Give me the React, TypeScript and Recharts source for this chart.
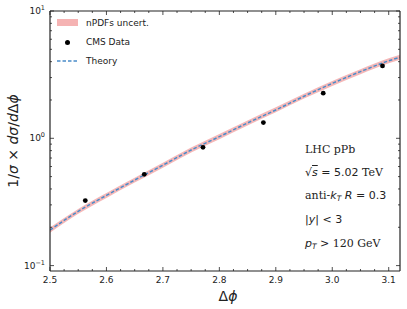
import React from 'react';
import { ComposedChart, XAxis, YAxis, Line, Area, Scatter } from 'recharts';

// ---- data ----
const theoryX = [2.5, 2.55, 2.6, 2.65, 2.7, 2.75, 2.8, 2.85, 2.9, 2.95, 3.0, 3.05, 3.1, 3.12];
const theoryY = [0.19, 0.267, 0.356, 0.47, 0.615, 0.809, 1.03, 1.32, 1.67, 2.14, 2.7, 3.34, 4.06, 4.33];
const bandLow = [0.181, 0.255, 0.34, 0.449, 0.588, 0.773, 0.984, 1.26, 1.6, 2.05, 2.58, 3.19, 3.88, 4.14];
const bandHigh = [0.199, 0.279, 0.372, 0.491, 0.643, 0.846, 1.08, 1.38, 1.75, 2.24, 2.82, 3.49, 4.25, 4.53];
const cmsX = [2.5625, 2.667, 2.771, 2.878, 2.984, 3.089];
const cmsY = [0.324, 0.521, 0.849, 1.33, 2.26, 3.7];

const xTicks = [2.5, 2.525, 2.55, 2.575, 2.6, 2.625, 2.65, 2.675, 2.7, 2.725, 2.75, 2.775, 2.8, 2.825, 2.85, 2.875, 2.9, 2.925, 2.95, 2.975, 3.0, 3.025, 3.05, 3.075, 3.1];
const xMajor = [2.5, 2.6, 2.7, 2.8, 2.9, 3.0, 3.1];
const yTicks = [0.1, 0.2, 0.3, 0.4, 0.5, 0.6, 0.7, 0.8, 0.9, 1, 2, 3, 4, 5, 6, 7, 8, 9, 10];
const yMajor = [0.1, 1, 10];
const yMajorExp = ['\u22121', '0', '1'];

const xDomain = [2.5, 3.12];
const yDomain = [0.0907, 10];

const lineData = theoryX.map((x, i) => ({ x, y: theoryY[i] }));
const bandData = theoryX.map((x, i) => ({ x, band: [bandLow[i], bandHigh[i]] }));
const cmsData = cmsX.map((x, i) => ({ x, y: cmsY[i] }));

const AX = '#222';
const SANS = 'DejaVu Sans';
const SERIF = 'DejaVu Serif';

const isXMajor = (v: number) => xMajor.some((m) => Math.abs(m - v) < 1e-6);
const isYMajor = (v: number) => yMajor.some((m) => Math.abs(m - v) < 1e-9);

function XTick(props: any) {
  const { x, y, payload, side } = props;
  const v = payload.value as number;
  const major = isXMajor(v);
  const len = major ? 4 : 2;
  const dir = side === 'bottom' ? -1 : 1;
  return (
    <g>
      <line x1={x} x2={x} y1={y} y2={y + dir * len} stroke={AX} strokeWidth={0.8} />
      {side === 'bottom' && major && (
        <text x={x} y={y + 12} textAnchor="middle" fontFamily={SANS} fontSize={9} fill={AX}>
          {v.toFixed(1)}
        </text>
      )}
    </g>
  );
}

function YTick(props: any) {
  const { x, y, payload, side } = props;
  const v = payload.value as number;
  const major = isYMajor(v);
  const len = major ? 4 : 2;
  const dir = side === 'left' ? 1 : -1;
  const idx = yMajor.findIndex((m) => Math.abs(m - v) < 1e-9);
  return (
    <g>
      <line x1={x} x2={x + dir * len} y1={y} y2={y} stroke={AX} strokeWidth={0.8} />
      {side === 'left' && major && (
        <text x={x - 5} y={y + 3} textAnchor="end" fontFamily={SANS} fontSize={9} fill={AX}>
          10
          <tspan dy={-4} fontSize={6.5}>{yMajorExp[idx]}</tspan>
        </text>
      )}
    </g>
  );
}

function YLabel(props: any) {
  const vb = props.viewBox || {};
  const cx = (vb.x ?? 0) + 14;
  const cy = (vb.y ?? 0) + (vb.height ?? 0) / 2;
  return (
    <text
      x={cx}
      y={cy}
      transform={`rotate(-90 ${cx} ${cy})`}
      textAnchor="middle"
      dominantBaseline="middle"
      fontFamily={SANS}
      fontSize={14}
      fill={AX}
    >
      1/<tspan fontStyle="italic">σ</tspan> × <tspan fontStyle="italic">dσ</tspan>/<tspan fontStyle="italic">d</tspan>Δ<tspan fontStyle="italic">ϕ</tspan>
    </text>
  );
}

function XLabel(props: any) {
  const vb = props.viewBox || {};
  const cx = (vb.x ?? 0) + (vb.width ?? 0) / 2 + 3;
  const cy = (vb.y ?? 0) + 30;
  return (
    <text x={cx} y={cy} textAnchor="middle" fontFamily={SANS} fontSize={14} fill={AX}>
      Δ<tspan fontStyle="italic">ϕ</tspan>
    </text>
  );
}

const legendRow: React.CSSProperties = {
  position: 'absolute',
  left: 86,
  fontFamily: SANS,
  fontSize: 9,
  color: AX,
  lineHeight: '10px',
  whiteSpace: 'nowrap',
};

const annot: React.CSSProperties = {
  position: 'absolute',
  left: 305,
  fontFamily: SERIF,
  fontSize: 11,
  color: AX,
  lineHeight: '12px',
  whiteSpace: 'nowrap',
};
const m: React.CSSProperties = { fontFamily: SANS };
const mi: React.CSSProperties = { fontFamily: SANS, fontStyle: 'italic' };

export default function App() {
  return (
    <div style={{ position: 'absolute', left: 0, top: 0, width: 407, height: 309, background: '#fff' }}>
      <ComposedChart width={407} height={309} margin={{ top: 0, right: 0, bottom: 0, left: 0 }}>
        <XAxis
          xAxisId="b"
          orientation="bottom"
          type="number"
          dataKey="x"
          domain={xDomain}
          allowDataOverflow
          ticks={xTicks}
          interval={0}
          height={38}
          tickSize={0}
          tickMargin={0}
          axisLine={{ stroke: AX, strokeWidth: 1.2 }}
          tickLine={false}
          tick={(p: any) => <XTick {...p} side="bottom" />}
          label={(p: any) => <XLabel {...p} />}
        />
        <XAxis
          xAxisId="t"
          orientation="top"
          type="number"
          dataKey="x"
          domain={xDomain}
          allowDataOverflow
          ticks={xTicks}
          interval={0}
          height={11}
          tickSize={0}
          tickMargin={0}
          axisLine={{ stroke: AX, strokeWidth: 1.2 }}
          tickLine={false}
          tick={(p: any) => <XTick {...p} side="top" />}
        />
        <YAxis
          yAxisId="l"
          orientation="left"
          type="number"
          scale="log"
          domain={yDomain}
          allowDataOverflow
          ticks={yTicks}
          interval={0}
          width={50}
          tickSize={0}
          tickMargin={0}
          axisLine={{ stroke: AX, strokeWidth: 1.2 }}
          tickLine={false}
          tick={(p: any) => <YTick {...p} side="left" />}
          label={(p: any) => <YLabel {...p} />}
        />
        <YAxis
          yAxisId="r"
          orientation="right"
          type="number"
          scale="log"
          domain={yDomain}
          allowDataOverflow
          ticks={yTicks}
          interval={0}
          width={7}
          tickSize={0}
          tickMargin={0}
          axisLine={{ stroke: AX, strokeWidth: 1.2 }}
          tickLine={false}
          tick={(p: any) => <YTick {...p} side="right" />}
        />
        <Area
          xAxisId="b"
          yAxisId="l"
          data={bandData}
          dataKey="band"
          type="monotone"
          fill="#f2a0a0"
          fillOpacity={0.75}
          stroke="none"
          isAnimationActive={false}
        />
        <Line
          xAxisId="b"
          yAxisId="l"
          data={lineData}
          dataKey="y"
          type="monotone"
          stroke="#4a8cc9"
          strokeWidth={1.5}
          strokeDasharray="3.5 2"
          dot={false}
          activeDot={false}
          isAnimationActive={false}
        />
        <Scatter
          xAxisId="b"
          yAxisId="l"
          data={cmsData}
          dataKey="y"
          fill="#000"
          shape={(p: any) => <circle cx={p.cx} cy={p.cy} r={2.4} fill="#000" />}
          isAnimationActive={false}
        />
      </ComposedChart>

      {/* legend */}
      <div style={{ position: 'absolute', left: 57, top: 19, width: 21, height: 7, background: '#f5b3b3' }} />
      <div style={{ ...legendRow, top: 18 }}>nPDFs uncert.</div>
      <div style={{ position: 'absolute', left: 65, top: 40, width: 5, height: 5, borderRadius: '50%', background: '#000' }} />
      <div style={{ ...legendRow, top: 37 }}>CMS Data</div>
      <svg style={{ position: 'absolute', left: 57, top: 59 }} width={22} height={4}>
        <line x1={0} x2={21} y1={2} y2={2} stroke="#4a8cc9" strokeWidth={1.5} strokeDasharray="3.5 2" />
      </svg>
      <div style={{ ...legendRow, top: 56 }}>Theory</div>

      {/* annotations */}
      <div style={{ ...annot, top: 144 }}>LHC pPb</div>
      <div style={{ ...annot, top: 167 }}>
        <span style={m}>√<span style={{ ...mi, textDecoration: 'overline' }}>s</span> = 5.02</span> TeV
      </div>
      <div style={{ ...annot, top: 190 }}>
        anti-<span style={mi}>k</span><span style={{ ...mi, fontSize: 7.5, verticalAlign: '-2px' }}>T</span>{' '}
        <span style={mi}>R</span><span style={m}> = 0.3</span>
      </div>
      <div style={{ ...annot, top: 214 }}>
        <span style={m}>|<span style={mi}>y</span>| &lt; 3</span>
      </div>
      <div style={{ ...annot, top: 238 }}>
        <span style={mi}>p</span><span style={{ ...mi, fontSize: 7.5, verticalAlign: '-2px' }}>T</span> &gt; 120 GeV
      </div>
    </div>
  );
}
